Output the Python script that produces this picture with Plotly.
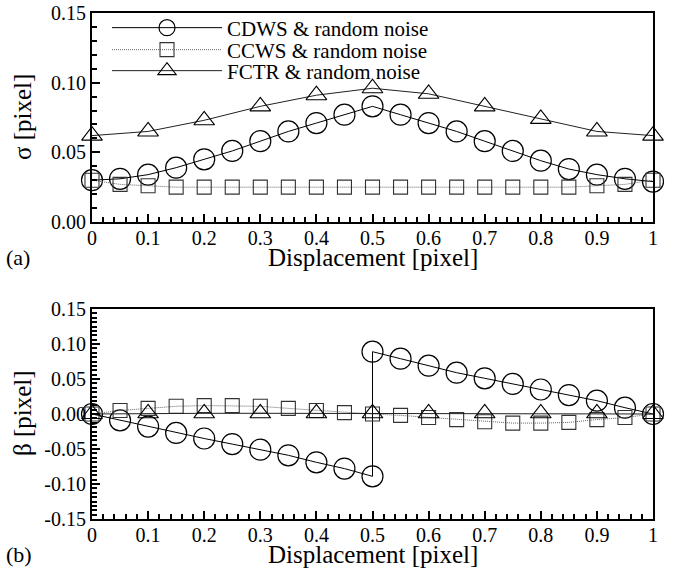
import plotly.graph_objects as go

# ---------------- data ----------------
x_fine = [0, 0.05, 0.1, 0.15, 0.2, 0.25, 0.3, 0.35, 0.4, 0.45, 0.5,
          0.55, 0.6, 0.65, 0.7, 0.75, 0.8, 0.85, 0.9, 0.95, 1.0]
x_coarse = [0, 0.1, 0.2, 0.3, 0.4, 0.5, 0.6, 0.7, 0.8, 0.9, 1.0]

# (a) sigma
sigma_cdws = [0.030, 0.031, 0.034, 0.039, 0.045, 0.051, 0.058, 0.065, 0.071, 0.077, 0.083,
              0.077, 0.071, 0.065, 0.058, 0.051, 0.044, 0.038, 0.034, 0.031, 0.029]
sigma_ccws = [0.030, 0.027, 0.026, 0.025, 0.025, 0.025, 0.025, 0.025, 0.025, 0.025, 0.025,
              0.025, 0.025, 0.025, 0.025, 0.025, 0.025, 0.025, 0.026, 0.027, 0.030]
sigma_fctr = [0.062, 0.065, 0.073, 0.083, 0.091, 0.096, 0.092, 0.083, 0.074, 0.065, 0.062]

# (b) beta
x_cdws_b = [0, 0.05, 0.1, 0.15, 0.2, 0.25, 0.3, 0.35, 0.4, 0.45, 0.5,
            0.5, 0.55, 0.6, 0.65, 0.7, 0.75, 0.8, 0.85, 0.9, 0.95, 1.0]
beta_cdws = [0.0, -0.009, -0.018, -0.027, -0.035, -0.043, -0.051, -0.059, -0.069, -0.078, -0.089,
             0.089, 0.079, 0.069, 0.059, 0.051, 0.043, 0.035, 0.027, 0.019, 0.009, 0.0]
beta_ccws = [0.0, 0.005, 0.008, 0.011, 0.012, 0.012, 0.011, 0.008, 0.005, 0.002, 0.0,
             -0.002, -0.005, -0.008, -0.011, -0.013, -0.013, -0.012, -0.008, -0.005, 0.0]
beta_fctr = [0.0, 0.001, 0.001, 0.001, 0.001, 0.001, 0.001, 0.001, 0.001, 0.001, 0.0]

names = ["CDWS & random noise", "CCWS & random noise", "FCTR & random noise"]
x_ticks = [0, 0.1, 0.2, 0.3, 0.4, 0.5, 0.6, 0.7, 0.8, 0.9, 1]
x_ticklabels = ["0", "0.1", "0.2", "0.3", "0.4", "0.5", "0.6", "0.7", "0.8", "0.9", "1"]

FONT = "Liberation Serif, Times New Roman, serif"
W, H = 681, 572
ML, MR, MT, MB = 92, 28, 13, 53
PW, PH = W - ML - MR, H - MT - MB


def px_x(x):
    return (x - ML) / PW


def px_y(y):
    return (H - MB - y) / PH


fig = go.Figure()

circ = dict(symbol="circle-open", size=21, color="black", line=dict(width=1.2))
sq = dict(symbol="square-open", size=14, color="#333", line=dict(width=1.1))
tri = dict(symbol="triangle-up-open", size=18, color="black", line=dict(width=1.1))
l_solid = dict(color="black", width=1)
l_dot = dict(color="#666", width=1, dash="1px,1px")
l_tri = dict(color="#222", width=1)

fig.add_trace(go.Scatter(x=x_fine, y=sigma_cdws, mode="lines+markers", name=names[0],
                         marker=circ, line=l_solid, legend="legend", cliponaxis=False,
                         xaxis="x", yaxis="y"))
fig.add_trace(go.Scatter(x=x_fine, y=sigma_ccws, mode="lines+markers", name=names[1],
                         marker=sq, line=l_dot, legend="legend2", cliponaxis=False,
                         xaxis="x", yaxis="y"))
fig.add_trace(go.Scatter(x=x_coarse, y=sigma_fctr, mode="lines+markers", name=names[2],
                         marker=tri, line=l_tri, legend="legend3", cliponaxis=False,
                         xaxis="x", yaxis="y"))

fig.add_trace(go.Scatter(x=x_cdws_b, y=beta_cdws, mode="lines+markers", showlegend=False,
                         marker=circ, line=l_solid, cliponaxis=False, xaxis="x2", yaxis="y2"))
fig.add_trace(go.Scatter(x=x_fine, y=beta_ccws, mode="lines+markers", showlegend=False,
                         marker=sq, line=l_dot, cliponaxis=False, xaxis="x2", yaxis="y2"))
fig.add_trace(go.Scatter(x=x_coarse, y=beta_fctr, mode="lines+markers", showlegend=False,
                         marker=tri, line=l_tri, cliponaxis=False, xaxis="x2", yaxis="y2"))

axis_common = dict(showline=True, linecolor="black", linewidth=2, mirror=True,
                   ticks="inside", ticklen=8, tickwidth=2, tickcolor="black",
                   showgrid=False, zeroline=False, automargin=False,
                   tickfont=dict(family=FONT, size=20, color="black"))

xcommon = dict(axis_common, range=[0, 1], tickvals=x_ticks, ticktext=x_ticklabels,
               ticklabelstandoff=-3,
               minor=dict(dtick=0.02, tick0=0, ticks="inside", ticklen=5, tickwidth=1.5,
                          tickcolor="black"))

top_lo = px_y(222)
bot_hi = px_y(309)

fig.update_layout(
    width=W, height=H,
    margin=dict(l=ML, r=MR, t=MT, b=MB, autoexpand=False),
    paper_bgcolor="white", plot_bgcolor="white",
    xaxis=dict(xcommon, domain=[0, 1], anchor="y"),
    yaxis=dict(axis_common, domain=[top_lo, 1.0], anchor="x", range=[0, 0.15],
               tickvals=[0, 0.05, 0.10, 0.15], ticktext=["0.00", "0.05", "0.10", "0.15"],
               minor=dict(dtick=0.01, tick0=0, ticks="inside", ticklen=5, tickwidth=1.5,
                          tickcolor="black")),
    xaxis2=dict(xcommon, domain=[0, 1], anchor="y2"),
    yaxis2=dict(axis_common, domain=[0, bot_hi], anchor="x2", range=[-0.15, 0.15],
                tickvals=[-0.15, -0.10, -0.05, 0, 0.05, 0.10, 0.15],
                ticktext=["-0.15", "-0.10", "-0.05", "0.00", "0.05", "0.10", "0.15"],
                minor=dict(dtick=0.00625, tick0=0, ticks="inside", ticklen=5, tickwidth=1.5,
                           tickcolor="black")),
    font=dict(family=FONT, color="black"),
)

leg_common = dict(xanchor="left", yanchor="middle", bgcolor="rgba(0,0,0,0)",
                  font=dict(family=FONT, size=21, color="black"),
                  itemwidth=110, tracegroupgap=0)
fig.update_layout(
    legend=dict(leg_common, x=px_x(107), y=px_y(28)),
    legend2=dict(leg_common, x=px_x(107), y=px_y(50)),
    legend3=dict(leg_common, x=px_x(107), y=px_y(71)),
)

tfont = dict(family=FONT, size=25, color="black")
# axis titles
fig.add_annotation(text="Displacement [pixel]", xref="paper", yref="paper",
                   x=0.5, y=px_y(257), xanchor="center", yanchor="middle",
                   showarrow=False, font=tfont)
fig.add_annotation(text="Displacement [pixel]", xref="paper", yref="paper",
                   x=0.5, y=px_y(554), xanchor="center", yanchor="middle",
                   showarrow=False, font=tfont)
fig.add_annotation(text="σ [pixel]", xref="paper", yref="paper", textangle=-90,
                   x=px_x(22), y=px_y(117), xanchor="center", yanchor="middle",
                   showarrow=False, font=tfont)
fig.add_annotation(text="β [pixel]", xref="paper", yref="paper", textangle=-90,
                   x=px_x(22), y=px_y(413), xanchor="center", yanchor="middle",
                   showarrow=False, font=tfont)
# panel labels
fig.add_annotation(text="(a)", xref="paper", yref="paper", x=px_x(4), y=px_y(257),
                   xanchor="left", yanchor="middle", showarrow=False,
                   font=dict(family=FONT, size=22, color="black"))
fig.add_annotation(text="(b)", xref="paper", yref="paper", x=px_x(4), y=px_y(554),
                   xanchor="left", yanchor="middle", showarrow=False,
                   font=dict(family=FONT, size=22, color="black"))

fig.write_html("out.html")
